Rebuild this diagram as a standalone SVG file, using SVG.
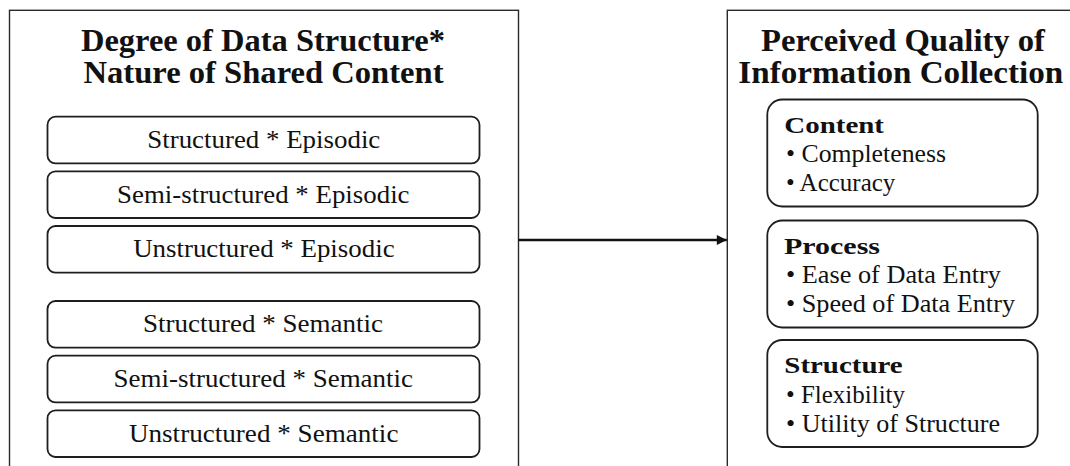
<svg xmlns="http://www.w3.org/2000/svg" width="1070" height="466" viewBox="0 0 1070 466">
  <style>
    .frame { fill: #ffffff; stroke: #2a2a2a; stroke-width: 1.4; }
    .cell { fill: #ffffff; stroke: #1e1e1e; stroke-width: 1.8; }
    .title { font-family: "Liberation Serif", "Times New Roman", serif; font-weight: bold; font-size: 31px; fill: #111111; }
    .label { font-family: "Liberation Serif", "Times New Roman", serif; font-size: 25px; fill: #111111; }
    .head { font-family: "Liberation Serif", "Times New Roman", serif; font-weight: bold; font-size: 23.5px; fill: #111111; }
    .mid { text-anchor: middle; }
    .link { stroke: #111111; stroke-width: 2.6; fill: none; }
  </style>
  <defs>
    <marker id="arrowhead" viewBox="0 0 10 10" refX="10" refY="5" markerUnits="userSpaceOnUse" markerWidth="12" markerHeight="10" orient="auto">
      <path d="M0,0 L10,5 L0,10 Z" fill="#111111"/>
    </marker>
  </defs>
  <rect width="1070" height="466" fill="#ffffff"/>

  <!-- Left construct: data structure x content nature -->
  <g id="predictor">
    <rect class="frame" x="9.5" y="10.3" width="509" height="480"/>
    <text class="title mid" x="263" y="51" textLength="364" lengthAdjust="spacingAndGlyphs">Degree of Data Structure*</text>
    <text class="title mid" x="263.5" y="83" textLength="360" lengthAdjust="spacingAndGlyphs">Nature of Shared Content</text>
  </g>

  <g id="structured-episodic">
    <rect class="cell" x="47.5" y="116.7" width="432" height="46.7" rx="8"/>
    <text class="label mid" x="263.8" y="148" textLength="233" lengthAdjust="spacingAndGlyphs">Structured * Episodic</text>
  </g>
  <g id="semistructured-episodic">
    <rect class="cell" x="47.5" y="171.3" width="432" height="46.7" rx="8"/>
    <text class="label mid" x="263.3" y="202.6" textLength="292.5" lengthAdjust="spacingAndGlyphs">Semi-structured * Episodic</text>
  </g>
  <g id="unstructured-episodic">
    <rect class="cell" x="47.5" y="226" width="432" height="46.7" rx="8"/>
    <text class="label mid" x="263.9" y="257.3" textLength="261.5" lengthAdjust="spacingAndGlyphs">Unstructured * Episodic</text>
  </g>
  <g id="structured-semantic">
    <rect class="cell" x="47.5" y="301" width="432" height="46.7" rx="8"/>
    <text class="label mid" x="262.9" y="332.3" textLength="240" lengthAdjust="spacingAndGlyphs">Structured * Semantic</text>
  </g>
  <g id="semistructured-semantic">
    <rect class="cell" x="47.5" y="355.7" width="432" height="46.7" rx="8"/>
    <text class="label mid" x="263.3" y="387" textLength="299.4" lengthAdjust="spacingAndGlyphs">Semi-structured * Semantic</text>
  </g>
  <g id="unstructured-semantic">
    <rect class="cell" x="47.5" y="410.3" width="432" height="46.7" rx="8"/>
    <text class="label mid" x="263.7" y="441.6" textLength="269.5" lengthAdjust="spacingAndGlyphs">Unstructured * Semantic</text>
  </g>

  <!-- Right construct: perceived quality -->
  <g id="outcome">
    <rect class="frame" x="727.3" y="10.3" width="360" height="480"/>
    <text class="title" x="761" y="51" textLength="284" lengthAdjust="spacingAndGlyphs">Perceived Quality of</text>
    <text class="title" x="738.3" y="83" textLength="325" lengthAdjust="spacingAndGlyphs">Information Collection</text>
  </g>

  <g id="content">
    <rect class="cell" x="767.3" y="99.5" width="270.4" height="107" rx="15"/>
    <text class="head" x="784.3" y="132.5" textLength="99.7" lengthAdjust="spacingAndGlyphs">Content</text>
    <text class="label" x="786" y="162" textLength="160" lengthAdjust="spacingAndGlyphs">• Completeness</text>
    <text class="label" x="786" y="190.5" textLength="109.3" lengthAdjust="spacingAndGlyphs">• Accuracy</text>
  </g>
  <g id="process">
    <rect class="cell" x="767.3" y="220.5" width="270.4" height="107" rx="15"/>
    <text class="head" x="784" y="253.5" textLength="96" lengthAdjust="spacingAndGlyphs">Process</text>
    <text class="label" x="786" y="283" textLength="215" lengthAdjust="spacingAndGlyphs">• Ease of Data Entry</text>
    <text class="label" x="786" y="311.5" textLength="229" lengthAdjust="spacingAndGlyphs">• Speed of Data Entry</text>
  </g>
  <g id="structure">
    <rect class="cell" x="767.3" y="340" width="270.4" height="107" rx="15"/>
    <text class="head" x="784.3" y="373.3" textLength="118.4" lengthAdjust="spacingAndGlyphs">Structure</text>
    <text class="label" x="786" y="402.8" textLength="119" lengthAdjust="spacingAndGlyphs">• Flexibility</text>
    <text class="label" x="786" y="431.8" textLength="214" lengthAdjust="spacingAndGlyphs">• Utility of Structure</text>
  </g>

  <g id="connectors">
    <line class="link" x1="518.5" y1="240" x2="726.8" y2="240" marker-end="url(#arrowhead)"/>
  </g>
</svg>
